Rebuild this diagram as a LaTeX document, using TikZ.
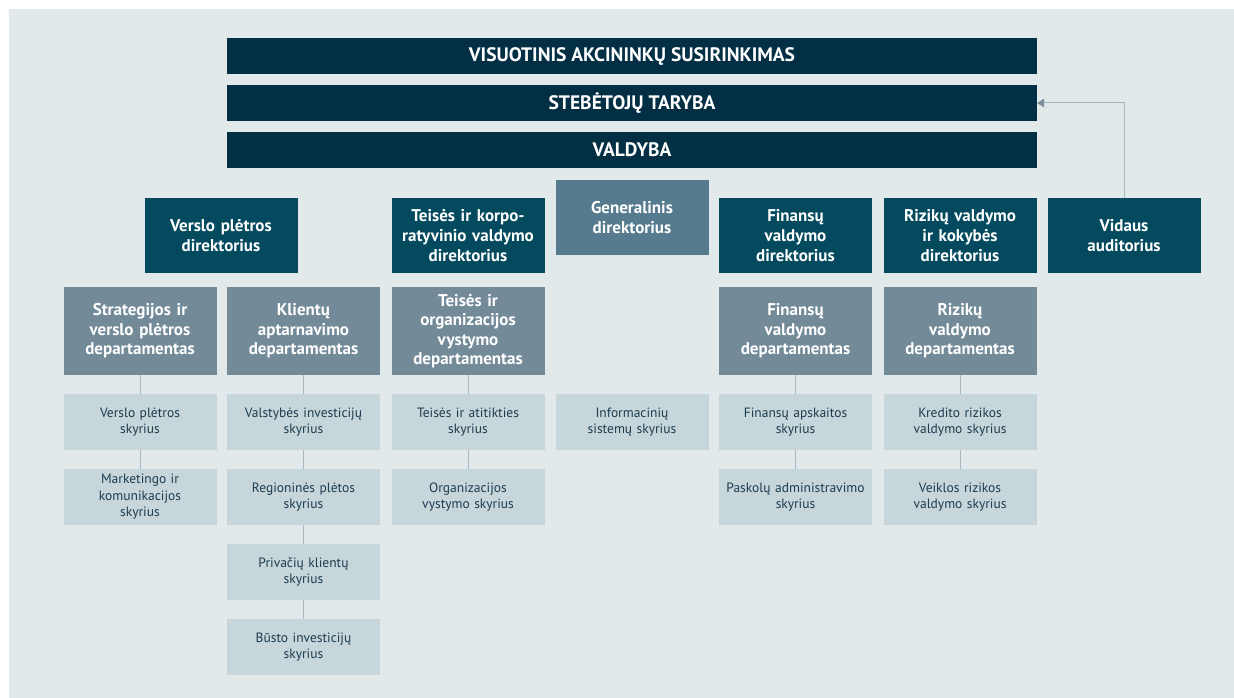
\documentclass[tikz,border=0pt]{standalone}
\usepackage{fontspec}
\setmainfont{PT Sans}
\usetikzlibrary{arrows.meta}

\definecolor{bgc}{HTML}{E1E9EB}
\definecolor{barc}{HTML}{022F44}
\definecolor{dirc}{HTML}{034A5F}
\definecolor{genc}{HTML}{567B8E}
\definecolor{depc}{HTML}{738A99}
\definecolor{unitc}{HTML}{C6D6DA}
\definecolor{unittext}{HTML}{1D3C50}
\definecolor{linec}{HTML}{A9B8BF}
\definecolor{tipc}{HTML}{7D909B}

\begin{document}
\begin{tikzpicture}[
  x=1pt, y=-1pt,
  box/.style = {inner sep=0pt, minimum width=153pt, text width=150pt, align=center},
  bar/.style = {inner sep=0pt, minimum width=810pt, minimum height=36pt, fill=barc, text=white, font=\fontsize{19.5}{22}\selectfont\bfseries},
  director/.style = {box, minimum height=75pt, fill=dirc, text=white, font=\fontsize{17}{20}\selectfont\bfseries},
  ceo/.style = {director, fill=genc},
  dept/.style = {box, minimum height=88pt, fill=depc, text=white, font=\fontsize{17}{19.5}\selectfont\bfseries},
  unit/.style = {box, minimum height=56pt, fill=unitc, text=unittext, font=\fontsize{13.5}{16.5}\selectfont},
  link/.style = {draw=linec, line width=1pt}
]
  \useasboundingbox (0,0) rectangle (1234,698);
  \fill[bgc] (9,9) rectangle (1234,698);

  % valdymo organai
  \node[bar] (vas) at (632,56) {VISUOTINIS AKCININKŲ SUSIRINKIMAS};
  \node[bar] (st) at (632,103) {STEBĖTOJŲ TARYBA};
  \node[bar] (vald) at (632,150) {VALDYBA};

  % direktoriai
  \node[director] (dirVP) at (221,235.5) {Verslo plėtros\\direktorius};
  \node[director] (dirTK) at (468,235.5) {Teisės ir korpo-\\ratyvinio valdymo\\direktorius};
  \node[ceo] (gen) at (632,217.5) {Generalinis\\direktorius};
  \node[director] (dirFV) at (795.5,235.5) {Finansų\\valdymo\\direktorius};
  \node[director] (dirRV) at (960,235.5) {Rizikų valdymo\\ir kokybės\\direktorius};
  \node[director] (aud) at (1124,235.5) {Vidaus\\auditorius};

  % departamentai
  \node[dept] (depSV) at (140,331) {Strategijos ir\\verslo plėtros\\departamentas};
  \node[dept] (depKA) at (303.5,331) {Klientų\\aptarnavimo\\departamentas};
  \node[dept] (depTO) at (468,331) {Teisės ir\\organizacijos\\vystymo\\departamentas};
  \node[dept] (depFV) at (795.5,331) {Finansų\\valdymo\\departamentas};
  \node[dept] (depRV) at (960,331) {Rizikų\\valdymo\\departamentas};

  % skyriai
  \node[unit] (skVP) at (140,422) {Verslo plėtros\\skyrius};
  \node[unit] (skMK) at (140,497) {Marketingo ir\\komunikacijos\\skyrius};
  \node[unit] (skVI) at (303.5,422) {Valstybės investicijų\\skyrius};
  \node[unit] (skRP) at (303.5,497) {Regioninės plėtos\\skyrius};
  \node[unit] (skPK) at (303.5,572) {Privačių klientų\\skyrius};
  \node[unit] (skBI) at (303.5,647) {Būsto investicijų\\skyrius};
  \node[unit] (skTA) at (468,422) {Teisės ir atitikties\\skyrius};
  \node[unit] (skOV) at (468,497) {Organizacijos\\vystymo skyrius};
  \node[unit] (skIS) at (632,422) {Informacinių\\sistemų skyrius};
  \node[unit] (skFA) at (795.5,422) {Finansų apskaitos\\skyrius};
  \node[unit] (skPA) at (795.5,497) {Paskolų administravimo\\skyrius};
  \node[unit] (skKR) at (960,422) {Kredito rizikos\\valdymo skyrius};
  \node[unit] (skVR) at (960,497) {Veiklos rizikos\\valdymo skyrius};

  % jungtys
  \draw[link] (depSV) -- (skVP) -- (skMK);
  \draw[link] (depKA) -- (skVI) -- (skRP) -- (skPK) -- (skBI);
  \draw[link] (depTO) -- (skTA) -- (skOV);
  \draw[link] (depFV) -- (skFA) -- (skPA);
  \draw[link] (depRV) -- (skKR) -- (skVR);
  \draw[link, -{Triangle[length=7pt, width=9pt, color=tipc]}] (aud.north) |- (st.east);
\end{tikzpicture}
\end{document}
